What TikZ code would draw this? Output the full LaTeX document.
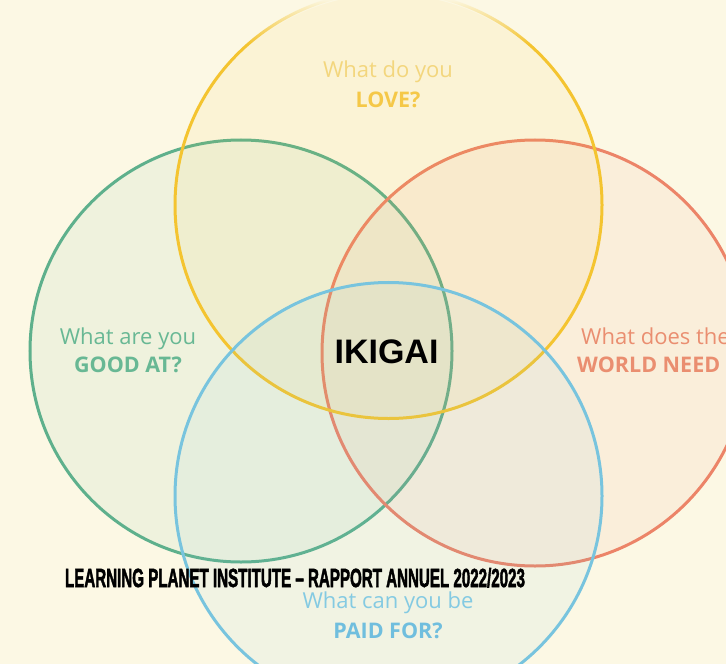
\documentclass[tikz,border=0pt]{standalone}
\usepackage{fontspec}
\setmainfont{Liberation Sans}
\newfontfamily\labelfont{Open Sans}
\newfontfamily\footfont{Liberation Sans Bold}[FakeBold=2.5]
\usetikzlibrary{fadings}
\definecolor{bg}{RGB}{252,248,228}
\definecolor{cyel}{RGB}{244,196,48}
\definecolor{cgrn}{RGB}{94,176,140}
\definecolor{corg}{RGB}{236,132,104}
\definecolor{cblu}{RGB}{120,196,222}
\definecolor{tyel}{RGB}{243,214,125}
\definecolor{tyelb}{RGB}{245,200,72}
\definecolor{tgrn}{RGB}{104,184,148}
\definecolor{torg}{RGB}{234,142,112}
\definecolor{tblu}{RGB}{132,202,226}
\definecolor{tblub}{RGB}{112,190,222}
\tikzfading[name=fadetop, top color=transparent!0, bottom color=transparent!100]
\begin{document}
\begin{tikzpicture}[x=1bp,y=-1bp,
  ring/.style={circle, inner sep=0pt, outer sep=0pt, line width=3bp, fill opacity=0.08},
  reg/.style={font=\labelfont\fontsize{22bp}{26bp}\selectfont, anchor=base, inner sep=0pt},
  bld/.style={font=\labelfont\bfseries\fontsize{21.5bp}{26bp}\selectfont, anchor=base, inner sep=0pt}]
\useasboundingbox (0,0) rectangle (726,664);
\fill[bg] (0,0) rectangle (726,664);
\begin{scope}
\clip (0,0) rectangle (726,664);
\node[ring, draw=cgrn, fill=cgrn, minimum size=422bp] (good) at (241,351) {};
\node[ring, draw=corg, fill=corg, minimum size=426bp] (world) at (535,353) {};
\node[ring, draw=cyel, fill=cyel, minimum size=427bp] (love) at (388.5,205) {};
\node[ring, draw=cblu, fill=cblu, minimum size=427bp] (paid) at (388.5,496) {};
\begin{scope}[even odd rule]
\clip (love.center) circle[radius=216bp] (love.center) circle[radius=211bp];
\fill[bg, path fading=fadetop] (0,-2) rectangle (726,44);
\end{scope}
\node[reg, text=tyel] (loveq) at (388,78) {What do you};
\node[bld, text=tyelb] (lovea) at (388,108) {LOVE?};
\node[reg, text=tgrn] (goodq) at (128,344) {What are you};
\node[bld, text=tgrn] (gooda) at (128,372) {GOOD AT?};
\node[reg, text=torg, anchor=base west] (worldq) at (581,344) {What does the};
\node[bld, text=torg, anchor=base west] (worlda) at (577,372) {WORLD NEED};
\node[reg, text=tblu] (paidq) at (388,608) {What can you be};
\node[bld, text=tblub] (paida) at (388,638) {PAID FOR?};
\end{scope}
\node[anchor=base, inner sep=0pt, font=\bfseries\fontsize{34bp}{40bp}\selectfont] (ikigai) at (386.5,363) {IKIGAI};
\node[anchor=base, inner sep=0pt] (footer) at (295,587) {\resizebox{460bp}{19bp}{\footfont LEARNING PLANET INSTITUTE – RAPPORT ANNUEL 2022/2023}};
\end{tikzpicture}
\end{document}
